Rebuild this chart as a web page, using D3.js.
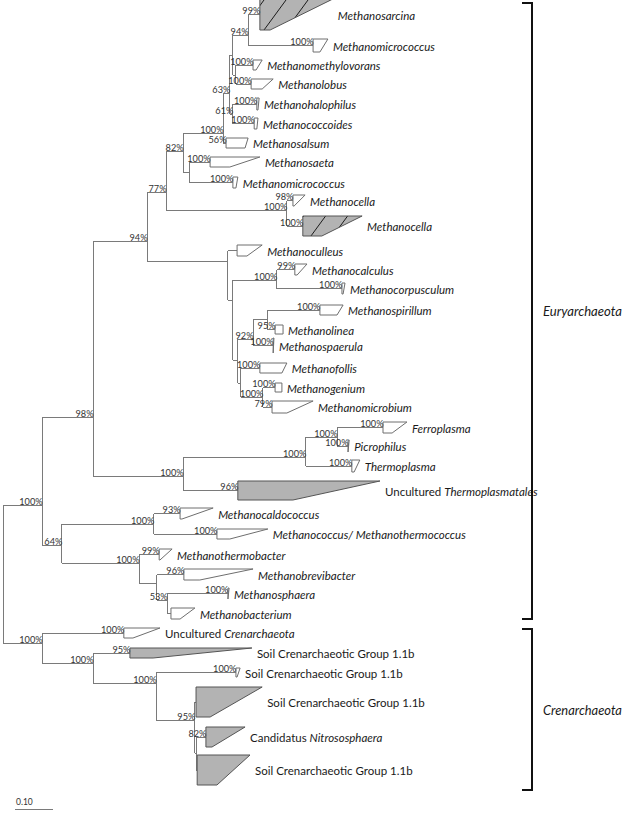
<!DOCTYPE html>
<html><head><meta charset="utf-8">
<script src="https://cdn.jsdelivr.net/npm/d3@7"></script>
<style>body{margin:0;background:#fff} svg{display:block}</style>
</head><body><svg id="chart" width="628" height="816"></svg>
<script>
// ---------- DATA ----------
// internal nodes: [id, parent, depth from root (subst./site), y (tree row space), bootstrap]
const internalNodes = [
  ["root", "", 0, 574, ""],
  ["A", "root", 0.103, 505, "100%"],
  ["N98", "A", 0.237, 417, "98%"],
  ["N94", "N98", 0.379, 241, "94%"],
  ["N77", "N94", 0.429, 192, "77%"],
  ["N82", "N77", 0.474, 151, "82%"],
  ["N100c", "N82", 0.579, 133, "100%"],
  ["N63", "N100c", 0.597, 93, "63%"],
  ["N233b", "N63", 0.605, 55, ""],
  ["N94b", "N233b", 0.645, 35, "94%"],
  ["N237", "N233b", 0.613, 75, ""],
  ["N235", "N63", 0.605, 114, "61%"],
  ["N190", "N82", 0.492, 172, ""],
  ["N287", "N77", 0.747, 210, "100%"],
  ["N228", "N94", 0.592, 261, ""],
  ["N233m", "N228", 0.605, 300, ""],
  ["N277", "N233m", 0.721, 280, "100%"],
  ["N239", "N233m", 0.618, 360, ""],
  ["N253", "N239", 0.658, 339, "92%"],
  ["N267", "N253", 0.695, 319, ""],
  ["N241", "N239", 0.626, 383, ""],
  ["N263", "N241", 0.684, 397, "100%"],
  ["N183", "N98", 0.474, 476, "100%"],
  ["N306", "N183", 0.797, 457, "100%"],
  ["N337", "N306", 0.879, 437, "100%"],
  ["N64", "A", 0.155, 545, "64%"],
  ["Nmc", "N64", 0.397, 524, "100%"],
  ["Nmb", "N64", 0.358, 563, "100%"],
  ["N157", "Nmb", 0.405, 583, ""],
  ["N167", "N157", 0.432, 600, "53%"],
  ["Ncren", "root", 0.103, 643, "100%"],
  ["N93c", "Ncren", 0.237, 663, "100%"],
  ["N156", "N93c", 0.403, 683, "100%"],
  ["N195", "N156", 0.505, 720, "95%"],
  ["N196", "N195", 0.508, 753, ""]
];

// collapsed clades: [id, parent, label (*italic*), depth start, shallowest tip, deepest tip, y top, y bottom, bootstrap, kind]
const clades = [
  ["c1", "N94b", "*Methanosarcina*", 0.676, 0.703, 0.868, -1, 30, "99%", "hatched"],
  ["c2", "N94b", "*Methanomicrococcus*", 0.816, 0.834, 0.855, 39, 52, "100%", "open"],
  ["c3", "N237", "*Methanomethylovorans*", 0.658, 0.666, 0.682, 60, 70, "100%", "open"],
  ["c4", "N237", "*Methanolobus*", 0.653, 0.682, 0.711, 79, 89, "100%", "open"],
  ["c5", "N235", "*Methanohalophilus*", 0.668, 0.671, 0.674, 98, 110, "100%", "open"],
  ["c6", "N235", "*Methanococcoides*", 0.661, 0.668, 0.671, 118, 129, "100%", "open"],
  ["c7", "N100c", "*Methanosalsum*", 0.587, 0.637, 0.645, 138, 148, "56%", "open"],
  ["c8", "N190", "*Methanosaeta*", 0.545, 0.597, 0.676, 157, 167, "100%", "open"],
  ["c9", "N190", "*Methanomicrococcus*", 0.605, 0.613, 0.618, 177, 188, "100%", "open"],
  ["c10", "N287", "*Methanocella*", 0.763, 0.766, 0.795, 195, 206, "98%", "open"],
  ["c11", "N287", "*Methanocella*", 0.789, 0.839, 0.945, 216, 236, "100%", "hatched"],
  ["c12", "N228", "*Methanoculleus*", 0.616, 0.642, 0.682, 245, 256, "", "open"],
  ["c13", "N277", "*Methanocalculus*", 0.768, 0.774, 0.800, 264, 275, "99%", "open"],
  ["c14", "N277", "*Methanocorpusculum*", 0.892, 0.895, 0.900, 283, 294, "100%", "open"],
  ["c15", "N267", "*Methanospirillum*", 0.834, 0.879, 0.895, 305, 315, "100%", "open"],
  ["c16", "N267", "*Methanolinea*", 0.716, 0.737, 0.737, 325, 334, "95%", "open"],
  ["c17", "N253", "*Methanospaerula*", 0.711, 0.711, 0.713, 338, 353, "100%", "open"],
  ["c18", "N241", "*Methanofollis*", 0.676, 0.734, 0.747, 363, 373, "100%", "open"],
  ["c19", "N263", "*Methanogenium*", 0.716, 0.734, 0.734, 383, 392, "100%", "open"],
  ["c20", "N263", "*Methanomicrobium*", 0.708, 0.747, 0.816, 401, 413, "79%", "open"],
  ["c21", "N337", "*Ferroplasma*", 1.000, 1.024, 1.063, 422, 433, "100%", "open"],
  ["c22", "N337", "*Picrophilus*", 0.908, 0.908, 0.911, 440, 452, "100%", "open"],
  ["c23", "N306", "*Thermoplasma*", 0.918, 0.924, 0.939, 460, 472, "100%", "open"],
  ["c24", "N183", "Uncultured *Thermoplasmatales*", 0.618, 0.763, 0.992, 481, 500, "96%", "filled"],
  ["c25", "Nmc", "*Methanocaldococcus*", 0.466, 0.471, 0.553, 508, 519, "93%", "open"],
  ["c26", "Nmc", "*Methanococcus/ Methanothermococcus*", 0.563, 0.597, 0.697, 529, 539, "100%", "open"],
  ["c27", "Nmb", "*Methanothermobacter*", 0.411, 0.413, 0.445, 549, 560, "99%", "open"],
  ["c28", "N157", "*Methanobrevibacter*", 0.476, 0.518, 0.658, 569, 580, "96%", "open"],
  ["c29", "N167", "*Methanosphaera*", 0.592, 0.592, 0.595, 588, 599, "100%", "open"],
  ["c30", "N167", "*Methanobacterium*", 0.442, 0.466, 0.505, 608, 619, "", "open"],
  ["c31", "Ncren", "Uncultured *Crenarchaeota*", 0.318, 0.342, 0.413, 628, 638, "100%", "open"],
  ["c32", "N93c", "Soil Crenarchaeotic Group 1.1b", 0.334, 0.395, 0.655, 648, 658, "95%", "filled"],
  ["c33", "N156", "Soil Crenarchaeotic Group 1.1b", 0.613, 0.616, 0.624, 668, 677, "100%", "open"],
  ["c34", "N195", "Soil Crenarchaeotic Group 1.1b", 0.508, 0.545, 0.682, 687, 717, "", "filled"],
  ["c35", "N196", "Candidatus *Nitrososphaera*", 0.534, 0.550, 0.637, 727, 747, "82%", "filled"],
  ["c36", "N196", "Soil Crenarchaeotic Group 1.1b", 0.511, 0.563, 0.650, 755, 785, "", "filled"]
];

// phylum brackets: [name, y top, y bottom]
const phyla = [
  ["Euryarchaeota", 3, 619],
  ["Crenarchaeota", 629, 790]
];
const scaleBarValue = 0.10;
const scaleBarLabel = "0.10";

// ---------- LAYOUT ----------
const W = 628, H = 816;
const svg = d3.select("#chart");
const xScale = d3.scaleLinear().domain([0, 1]).range([3, 383]);
const yScale = d3.scaleLinear().domain([0, H]).range([0, H]);
const FONT = "Lato, 'Open Sans', sans-serif";

const rows = [
  ...internalNodes.map(([id, parent, depth, y, boot]) => ({id, parent: parent || null, depth, y, boot, leaf: false})),
  ...clades.map(([id, parent, label, depth, dMin, dMax, yTop, yBot, boot, kind]) =>
    ({id, parent, label, depth, dMin, dMax, yTop, yBot, y: (yTop + yBot) / 2, boot, kind, leaf: true}))
];
const root = d3.stratify().id(d => d.id).parentId(d => d.parent)(rows);

// hatch pattern
const defs = svg.append("defs");
const pat = defs.append("pattern").attr("id", "hatch").attr("patternUnits", "userSpaceOnUse")
  .attr("width", 22).attr("height", 30);
pat.append("rect").attr("width", 22).attr("height", 30).attr("fill", "#b3b3b3");
pat.append("path").attr("d", "M0,30 L22,0 M-3,4 L3,-4 M19,34 L25,26")
  .attr("stroke", "#1a1a1a").attr("stroke-width", 1);

const gLines = svg.append("g").attr("stroke", "#7a7a7a").attr("stroke-width", 1)
  .attr("fill", "none").attr("shape-rendering", "crispEdges");

// horizontal branches
root.descendants().filter(n => n.parent).forEach(n => {
  gLines.append("line")
    .attr("x1", xScale(n.parent.data.depth)).attr("x2", xScale(n.data.depth))
    .attr("y1", yScale(n.data.y)).attr("y2", yScale(n.data.y));
});
// vertical connectors
root.descendants().filter(n => n.children).forEach(n => {
  const ys = n.children.map(c => c.data.y);
  gLines.append("line")
    .attr("x1", xScale(n.data.depth)).attr("x2", xScale(n.data.depth))
    .attr("y1", yScale(d3.min(ys))).attr("y2", yScale(d3.max(ys)));
});

// collapsed clade shapes
const leaves = root.leaves();
svg.append("g").selectAll("path").data(leaves).join("path")
  .attr("d", n => {
    const d = n.data;
    const pts = [[xScale(d.depth), yScale(d.yTop)], [xScale(d.dMax), yScale(d.yTop)],
                 [xScale(d.dMin), yScale(d.yBot)], [xScale(d.depth), yScale(d.yBot)]];
    return "M" + pts.map(p => p.join(",")).join("L") + "Z";
  })
  .attr("fill", n => n.data.kind === "hatched" ? "url(#hatch)" : n.data.kind === "filled" ? "#b3b3b3" : "#fff")
  .attr("stroke", n => n.data.kind === "open" ? "#6e6e6e" : "#555")
  .attr("stroke-width", 1);

// bootstrap labels
svg.append("g").attr("font-family", FONT).attr("font-size", 9.2).attr("fill", "#333")
  .attr("text-anchor", "end")
  .selectAll("text").data(root.descendants().filter(n => n.data.boot)).join("text")
  .attr("x", n => xScale(n.data.depth) + 0.5)
  .attr("y", n => yScale(n.data.y) - 0.5)
  .text(n => n.data.boot);

// clade labels
const gLab = svg.append("g").attr("font-family", FONT).attr("font-size", 11.5).attr("fill", "#1a1a1a");
leaves.forEach(n => {
  const d = n.data;
  const t = gLab.append("text").attr("x", xScale(d.dMax) + 5).attr("y", yScale(d.y))
    .attr("dominant-baseline", "central");
  d.label.split("*").forEach((seg, i) => {
    if (!seg) return;
    t.append("tspan").attr("font-style", i % 2 ? "italic" : "normal").text(seg);
  });
});

// phylum brackets
const bx = 532;
const gBr = svg.append("g");
phyla.forEach(([name, y0, y1]) => {
  gBr.append("path")
    .attr("d", `M${bx - 10},${yScale(y0)}H${bx}V${yScale(y1)}H${bx - 10}`)
    .attr("fill", "none").attr("stroke", "#111").attr("stroke-width", 2);
  const t = gBr.append("text").attr("x", bx + 11).attr("y", yScale((y0 + y1) / 2))
    .attr("dominant-baseline", "central")
    .attr("font-family", FONT).attr("font-size", 15).attr("font-style", "italic")
    .attr("fill", "#1a1a1a").text(name);
  const len = t.node().getComputedTextLength();
  const target = W - (bx + 11) - 6;
  if (len > target) t.attr("font-size", 15 * target / len);
});

// scale bar
const sbX = 15, sbY = 809;
svg.append("line").attr("x1", sbX).attr("x2", sbX + (xScale(scaleBarValue) - xScale(0)))
  .attr("y1", sbY).attr("y2", sbY).attr("stroke", "#7a7a7a").attr("shape-rendering", "crispEdges");
svg.append("text").attr("x", sbX + 1).attr("y", sbY - 4)
  .attr("font-family", FONT).attr("font-size", 8.5).attr("fill", "#333").text(scaleBarLabel);
</script>
</body></html>
